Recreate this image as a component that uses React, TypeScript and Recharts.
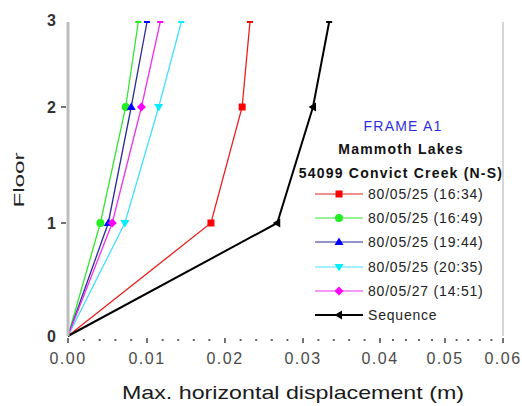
import React from 'react';
import { LineChart, Line, XAxis, YAxis, Legend, ReferenceLine } from 'recharts';

// ---------- data ----------
const floors = [0, 1, 2, 3];
const seriesNames = [
  '80/05/25 (16:34)',
  '80/05/25 (16:49)',
  '80/05/25 (19:44)',
  '80/05/25 (20:35)',
  '80/05/27 (14:51)',
  'Sequence',
];
const disp1634 = [0, 0.0182, 0.0222, 0.0232];
const disp1649 = [0, 0.0041, 0.0073, 0.0089];
const disp1944 = [0, 0.0051, 0.008, 0.01];
const disp2035 = [0, 0.0072, 0.0115, 0.0144];
const disp1451 = [0, 0.0056, 0.0093, 0.0117];
const dispSequence = [0, 0.0267, 0.0313, 0.0334];

const xMajorTicks = [0, 0.01, 0.02, 0.03, 0.04, 0.05, 0.06];
const yTicks = [0, 1, 2, 3];
const xTitle = 'Max. horizontal displacement (m)';
const yTitle = 'Floor';
const legendTitle = 'FRAME A1';
const legendSub1 = 'Mammoth Lakes';
const legendSub2 = '54099 Convict Creek (N-S)';

// ---------- styles ----------
const FONT = '"Liberation Sans", Arial, Helvetica, sans-serif';
const styles = [
  { line: '#e82020', fill: '#ff0000', shape: 'square', width: 1.3 },
  { line: '#33e633', fill: '#22ee22', shape: 'circle', width: 1.3 },
  { line: '#2a2a99', fill: '#0000ff', shape: 'up', width: 1.3 },
  { line: '#44e0ff', fill: '#00eeff', shape: 'down', width: 1.3 },
  { line: '#ee33ee', fill: '#ff00ff', shape: 'diamond', width: 1.3 },
  { line: '#000000', fill: '#000000', shape: 'left', width: 2 },
];
const seriesValues = [disp1634, disp1649, disp1944, disp2035, disp1451, dispSequence];
const seriesData = seriesValues.map((vals) => floors.map((f, i) => ({ floor: f, disp: vals[i] })));

// minor ticks every 0.002 between majors
const xAllTicks: number[] = [];
for (let i = 0; i < xMajorTicks.length - 1; i++) {
  const a = xMajorTicks[i];
  const b = xMajorTicks[i + 1];
  for (let k = 0; k < 5; k++) xAllTicks.push(+(a + ((b - a) * k) / 5).toFixed(4));
}
xAllTicks.push(xMajorTicks[xMajorTicks.length - 1]);

// ---------- warped axis scales (reference axes are not evenly spaced) ----------
const xFracs = [0, 0.1816, 0.3609, 0.5402, 0.7172, 0.8667, 1];
const yFracs = [0, 0.3599, 0.7293, 1];

function piecewiseScale(knots: number[], fracs: number[]) {
  let dom = [knots[0], knots[knots.length - 1]];
  let rng = [0, 1];
  const toFrac = (v: number) => {
    const n = knots.length;
    let i = 0;
    if (v <= knots[0]) i = 0;
    else if (v >= knots[n - 1]) i = n - 2;
    else {
      while (i < n - 2 && v > knots[i + 1]) i++;
    }
    const t = (v - knots[i]) / (knots[i + 1] - knots[i]);
    return fracs[i] + t * (fracs[i + 1] - fracs[i]);
  };
  const fromFrac = (f: number) => {
    const n = fracs.length;
    let i = 0;
    if (f <= fracs[0]) i = 0;
    else if (f >= fracs[n - 1]) i = n - 2;
    else {
      while (i < n - 2 && f > fracs[i + 1]) i++;
    }
    const t = (f - fracs[i]) / (fracs[i + 1] - fracs[i]);
    return knots[i] + t * (knots[i + 1] - knots[i]);
  };
  const s: any = (v: number) => {
    const r0 = rng[0];
    const r1 = rng[rng.length - 1];
    return r0 + toFrac(Number(v)) * (r1 - r0);
  };
  s.domain = (d?: number[]) => {
    if (d === undefined) return dom.slice();
    dom = d.slice();
    return s;
  };
  s.range = (r?: number[]) => {
    if (r === undefined) return rng.slice();
    rng = r.slice();
    return s;
  };
  s.rangeRound = (r?: number[]) => s.range(r);
  s.invert = (px: number) => {
    const r0 = rng[0];
    const r1 = rng[rng.length - 1];
    return fromFrac((px - r0) / (r1 - r0));
  };
  s.ticks = () => knots.slice();
  s.tickFormat = () => (v: number) => String(v);
  s.clamp = () => s;
  s.nice = () => s;
  s.unknown = () => s;
  s.interpolate = () => s;
  s.copy = () => {
    const c = piecewiseScale(knots, fracs);
    c.domain(dom);
    c.range(rng);
    return c;
  };
  return s;
}

const xScale = piecewiseScale(xMajorTicks, xFracs);
const yScale = piecewiseScale(yTicks, yFracs);

// ---------- markers ----------
function Marker({ shape, cx, cy, fill, size = 8 }: any) {
  const h = size / 2;
  switch (shape) {
    case 'square':
      return <rect x={cx - h + 0.5} y={cy - h + 0.5} width={size - 1} height={size - 1} fill={fill} />;
    case 'circle':
      return <circle cx={cx} cy={cy} r={h} fill={fill} />;
    case 'up':
      return <polygon points={`${cx},${cy - h - 0.5} ${cx + h + 0.5},${cy + h * 0.75} ${cx - h - 0.5},${cy + h * 0.75}`} fill={fill} />;
    case 'down':
      return <polygon points={`${cx},${cy + h + 0.5} ${cx + h + 0.5},${cy - h * 0.75} ${cx - h - 0.5},${cy - h * 0.75}`} fill={fill} />;
    case 'diamond':
      return <polygon points={`${cx},${cy - h - 0.5} ${cx + h + 0.5},${cy} ${cx},${cy + h + 0.5} ${cx - h - 0.5},${cy}`} fill={fill} />;
    case 'left':
      return <polygon points={`${cx - h - 0.5},${cy} ${cx + h * 0.75},${cy - h - 0.5} ${cx + h * 0.75},${cy + h + 0.5}`} fill={fill} />;
    default:
      return <circle cx={cx} cy={cy} r={h} fill={fill} />;
  }
}

const makeDot = (idx: number) => (p: any) => {
  const st = styles[idx];
  const f = p.payload?.floor;
  const key = `dot-${idx}-${p.index}`;
  if (f === 1 || f === 2) {
    return (
      <g key={key}>
        <Marker shape={st.shape} cx={p.cx} cy={p.cy} fill={st.fill} />
      </g>
    );
  }
  if (f === 3) {
    return <rect key={key} x={p.cx - 3} y={p.cy - 1} width={6} height={2} fill={st.fill} />;
  }
  return <g key={key} />;
};

// ---------- ticks ----------
const isMajor = (v: number) => Math.abs(v * 100 - Math.round(v * 100)) < 1e-6;

const XTick = (props: any) => {
  const { x, y, payload } = props;
  const v = payload.value;
  if (isMajor(v)) {
    return (
      <g>
        <line x1={x} x2={x} y1={y + 2} y2={y + 7} stroke="#444" strokeWidth={1.5} />
        <text
          x={x}
          y={y + 28}
          textAnchor="middle"
          fontSize={16}
          letterSpacing={1.5}
          fill="#4a4a4a"
          fontFamily={FONT}
        >
          {v.toFixed(2)}
        </text>
      </g>
    );
  }
  return <rect x={x - 1} y={y + 3} width={2} height={2} fill="#666" />;
};

const YTick = (props: any) => {
  const { x, y, payload } = props;
  const v = payload.value;
  return (
    <g>
      {(v === 1 || v === 2) && <line x1={x - 7} x2={x - 2} y1={y} y2={y} stroke="#444" strokeWidth={1.5} />}
      <text
        x={x - 12}
        y={v === 3 ? y + 4 : y + 6}
        textAnchor="end"
        fontSize={16}
        fontWeight="bold"
        fill="#333"
        fontFamily={FONT}
      >
        {v}
      </text>
    </g>
  );
};

const XLabel = () => (
  <text
    x={293}
    y={399}
    textAnchor="middle"
    fontSize={19}
    fill="#1a1a1a"
    fontFamily={FONT}
    textLength={342}
    lengthAdjust="spacingAndGlyphs"
  >
    {xTitle}
  </text>
);

const YLabel = () => (
  <text
    x={24}
    y={180}
    transform="rotate(-90 24 180)"
    textAnchor="middle"
    fontSize={15}
    fill="#222"
    fontFamily={FONT}
    textLength={55}
    lengthAdjust="spacingAndGlyphs"
  >
    {yTitle}
  </text>
);

// ---------- legend ----------
const renderLegend = () => (
  <div style={{ position: 'relative', width: 222, height: 220, fontFamily: FONT }}>
    <div
      style={{
        position: 'absolute',
        left: 0,
        top: 7,
        width: 226,
        textAlign: 'center',
        color: '#3030e0',
        fontSize: 14,
        letterSpacing: 1.2,
        lineHeight: '18px',
      }}
    >
      {legendTitle}
    </div>
    <div
      style={{
        position: 'absolute',
        left: 0,
        top: 30,
        width: 222,
        textAlign: 'center',
        color: '#111',
        fontSize: 14,
        fontWeight: 'bold',
        letterSpacing: 1.2,
        lineHeight: '18px',
      }}
    >
      {legendSub1}
    </div>
    <div
      style={{
        position: 'absolute',
        left: 0,
        top: 54,
        width: 222,
        textAlign: 'center',
        color: '#111',
        fontSize: 14,
        fontWeight: 'bold',
        letterSpacing: 1.2,
        lineHeight: '18px',
        whiteSpace: 'nowrap',
      }}
    >
      {legendSub2}
    </div>
    {seriesNames.map((name, i) => {
      const st = styles[i];
      return (
        <div
          key={name}
          style={{
            position: 'absolute',
            left: 25,
            top: 84 + i * 24.2 - 9,
            height: 18,
            display: 'flex',
            alignItems: 'center',
            whiteSpace: 'nowrap',
          }}
        >
          <svg width={50} height={18} style={{ display: 'block' }}>
            <line x1={0} x2={48} y1={9} y2={9} stroke={st.line} strokeWidth={st.width === 2 ? 1.8 : 1.2} />
            <Marker shape={st.shape} cx={24} cy={9} fill={st.fill} />
          </svg>
          <span style={{ marginLeft: 3, fontSize: 14, letterSpacing: 0.8, color: '#222', lineHeight: '18px' }}>
            {name}
          </span>
        </div>
      );
    })}
  </div>
);

export default function App() {
  return (
    <div style={{ position: 'absolute', left: 0, top: 0, width: 522, height: 406, background: '#fff' }}>
      <LineChart
        width={522}
        height={406}
        margin={{ top: 22, right: 19, bottom: 0, left: 0 }}
        style={{ fontFamily: FONT }}
      >
        <XAxis
          dataKey="disp"
          type="number"
          domain={[0, 0.06]}
          scale={xScale}
          ticks={xAllTicks}
          interval={0}
          height={70}
          axisLine={false}
          tickLine={false}
          tickSize={0}
          tickMargin={0}
          tick={<XTick />}
          label={<XLabel />}
          allowDuplicatedCategory={false}
        />
        <YAxis
          dataKey="floor"
          type="number"
          domain={[0, 3]}
          scale={yScale}
          ticks={yTicks}
          interval={0}
          width={68}
          axisLine={{ stroke: '#bdbdbd', strokeWidth: 3 }}
          tickLine={false}
          tickSize={0}
          tickMargin={0}
          tick={<YTick />}
          label={<YLabel />}
        />
        <ReferenceLine x={0.06} stroke="#c8c8c8" strokeWidth={1.5} ifOverflow="extendDomain" />
        {seriesData.map((d, i) => (
          <Line
            key={seriesNames[i]}
            data={d}
            dataKey="floor"
            name={seriesNames[i]}
            type="linear"
            stroke={styles[i].line}
            strokeWidth={styles[i].width}
            dot={makeDot(i)}
            activeDot={false}
            isAnimationActive={false}
          />
        ))}
        <Legend
          layout="vertical"
          align="center"
          verticalAlign="middle"
          content={renderLegend}
          wrapperStyle={{ position: 'absolute', left: 290, top: 110, width: 222, height: 220 }}
        />
      </LineChart>
    </div>
  );
}
